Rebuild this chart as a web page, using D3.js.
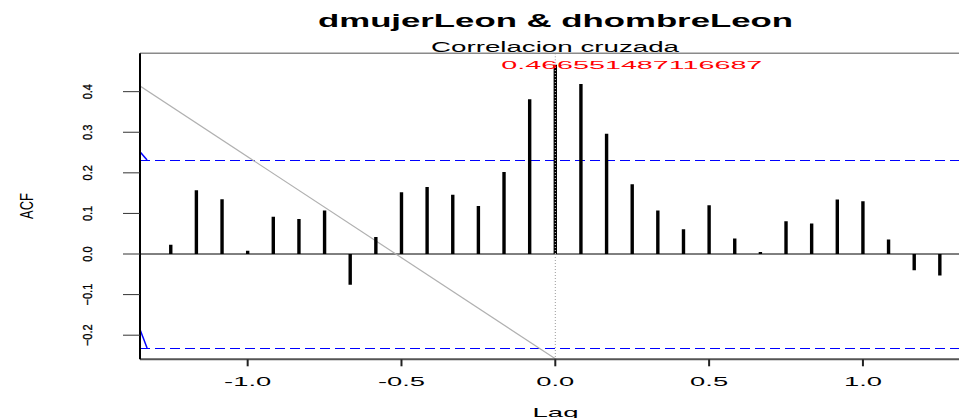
<!DOCTYPE html>
<html>
<head>
<meta charset="utf-8">
<script src="https://cdn.jsdelivr.net/npm/d3@7"></script>
<style>
  body { margin: 0; background: #fff; }
  text { font-family: "Liberation Sans", Arial, sans-serif; }
</style>
</head>
<body>
<div class="ccfDiv"></div>
<script>
"use strict"

// lags (years) and cross correlation values
var lags = [-1.25, -1.1667, -1.0833, -1.0, -0.9167, -0.8333, -0.75, -0.6667, -0.5833, -0.5, -0.4167, -0.3333, -0.25, -0.1667, -0.0833,
            0,
            0.0833, 0.1667, 0.25, 0.3333, 0.4167, 0.5, 0.5833, 0.6667, 0.75, 0.8333, 0.9167, 1.0, 1.0833, 1.1667, 1.25];
var acfValues = [0.023, 0.157, 0.135, 0.008, 0.092, 0.086, 0.107, -0.076, 0.042, 0.152, 0.165, 0.146, 0.118, 0.202, 0.381,
                 0.466551487116687,
                 0.419, 0.296, 0.172, 0.107, 0.061, 0.120, 0.038, 0.005, 0.081, 0.075, 0.134, 0.130, 0.036, -0.040, -0.053];

var ciLimit = 0.2315;
var xTicks = [-1.0, -0.5, 0.0, 0.5, 1.0];
var xTickLabels = ["-1.0", "-0.5", "0.0", "0.5", "1.0"];
var yTicks = [-0.2, -0.1, 0.0, 0.1, 0.2, 0.3, 0.4];
var yTickLabels = ["\u22120.2", "\u22120.1", "0.0", "0.1", "0.2", "0.3", "0.4"];

// grey reference line and the small blue marks at the left edge
var greyLine = [[-1.352, 0.415], [0.012, -0.264]];
var blueMarks = [[[-1.35, 0.252], [-1.327, 0.2315]], [[-1.35, -0.186], [-1.327, -0.2315]]];

var mainTitle = "dmujerLeon & dhombreLeon";
var subTitle = "Correlacion cruzada";
var maxLabel = "0.466551487116687";

var width = 959;
var height = 418;
var plot = {left: 140, right: 970.6, top: 53.3, bottom: 359.3};

var svg = d3.select(".ccfDiv").append("svg")
            .attr("width", width)
            .attr("height", height);

// R style 4% extension of the ranges
var x = d3.scaleLinear().domain([-1.35, 1.35]).range([plot.left, plot.right]);
var y = d3.scaleLinear().domain([-0.2594, 0.4945]).range([plot.bottom, plot.top]);

svg.append("defs").append("clipPath")
    .attr("id", "plotClip")
    .append("rect")
    .attr("x", plot.left).attr("y", plot.top)
    .attr("width", plot.right - plot.left).attr("height", plot.bottom - plot.top);

var g = svg.append("g").attr("clip-path", "url(#plotClip)");

// zero line
g.append("line")
    .attr("x1", plot.left).attr("x2", plot.right)
    .attr("y1", y(0)).attr("y2", y(0))
    .attr("stroke", "#000").attr("stroke-width", 1);

// confidence limits
[ciLimit, -ciLimit].forEach(function(c)
{
    g.append("line")
        .attr("x1", plot.left).attr("x2", plot.right)
        .attr("y1", Math.round(y(c)) + 0.5).attr("y2", Math.round(y(c)) + 0.5)
        .attr("stroke", "#0000ff").attr("stroke-width", 1.2)
        .attr("stroke-dasharray", "10,5");
});

blueMarks.forEach(function(m)
{
    g.append("line")
        .attr("x1", x(m[0][0])).attr("y1", y(m[0][1]))
        .attr("x2", x(m[1][0])).attr("y2", y(m[1][1]))
        .attr("stroke", "#0000ff").attr("stroke-width", 1.5);
});

// grey diagonal
g.append("path")
    .attr("d", d3.line().x(function(d) { return x(d[0]) }).y(function(d) { return y(d[1]) })(greyLine))
    .attr("fill", "none")
    .attr("stroke", "#b0b0b0").attr("stroke-width", 1.2);

// bars
g.selectAll(".bar")
    .data(lags)
    .enter()
    .append("line")
    .attr("class", "bar")
    .attr("x1", function(d) { return x(d) })
    .attr("x2", function(d) { return x(d) })
    .attr("y1", y(0))
    .attr("y2", function(d, i) { return y(acfValues[i]) })
    .attr("stroke", "#000")
    .attr("stroke-width", 3.4);

// dotted marker at lag 0
var zeroIdx = lags.indexOf(0);
g.append("line")
    .attr("x1", x(0)).attr("x2", x(0))
    .attr("y1", y(0)).attr("y2", y(acfValues[zeroIdx]))
    .attr("stroke", "#ddd").attr("stroke-width", 1)
    .attr("stroke-dasharray", "1,2");
g.append("line")
    .attr("x1", x(0)).attr("x2", x(0))
    .attr("y1", plot.top).attr("y2", y(acfValues[zeroIdx]))
    .attr("stroke", "#999").attr("stroke-width", 1)
    .attr("stroke-dasharray", "1,2");
g.append("line")
    .attr("x1", x(0)).attr("x2", x(0))
    .attr("y1", y(0)).attr("y2", plot.bottom)
    .attr("stroke", "#999").attr("stroke-width", 1)
    .attr("stroke-dasharray", "1,2");

// box
svg.append("line")
    .attr("x1", plot.left).attr("x2", width)
    .attr("y1", plot.top).attr("y2", plot.top)
    .attr("stroke", "#8a8a8a").attr("stroke-width", 1.5);
svg.append("line")
    .attr("x1", plot.left).attr("x2", width)
    .attr("y1", plot.bottom).attr("y2", plot.bottom)
    .attr("stroke", "#555").attr("stroke-width", 2);
svg.append("line")
    .attr("x1", plot.left).attr("x2", plot.left)
    .attr("y1", plot.top).attr("y2", plot.bottom)
    .attr("stroke", "#000").attr("stroke-width", 2);

// x axis
svg.selectAll(".xTick")
    .data(xTicks)
    .enter()
    .append("line")
    .attr("class", "xTick")
    .attr("x1", function(d) { return x(d) }).attr("x2", function(d) { return x(d) })
    .attr("y1", plot.bottom).attr("y2", plot.bottom + 7)
    .attr("stroke", "#222").attr("stroke-width", 2);

svg.selectAll(".xLabel")
    .data(xTicks)
    .enter()
    .append("text")
    .attr("class", "xLabel")
    .attr("transform", function(d) { return "translate(" + x(d) + "," + 386 + ") scale(2.28,1)" })
    .attr("text-anchor", "middle")
    .attr("font-size", 12)
    .text(function(d, i) { return xTickLabels[i] });

// y axis
svg.selectAll(".yTick")
    .data(yTicks)
    .enter()
    .append("line")
    .attr("class", "yTick")
    .attr("x1", plot.left - 17).attr("x2", plot.left)
    .attr("y1", function(d) { return y(d) }).attr("y2", function(d) { return y(d) })
    .attr("stroke", "#333").attr("stroke-width", 1);

svg.selectAll(".yLabel")
    .data(yTicks)
    .enter()
    .append("text")
    .attr("class", "yLabel")
    .attr("transform", function(d) { return "translate(92," + y(d) + ") rotate(-90) scale(0.85,1)" })
    .attr("text-anchor", "middle")
    .attr("font-size", 13)
    .attr("stroke", "#000")
    .attr("stroke-width", 0.3)
    .text(function(d, i) { return yTickLabels[i] });

// titles
svg.append("text")
    .attr("x", 555.5).attr("y", 26.5)
    .attr("text-anchor", "middle")
    .attr("font-size", 18.5)
    .attr("font-weight", "bold")
    .attr("textLength", 475)
    .attr("lengthAdjust", "spacingAndGlyphs")
    .text(mainTitle);

svg.append("text")
    .attr("x", 555).attr("y", 51.5)
    .attr("text-anchor", "middle")
    .attr("font-size", 14)
    .attr("textLength", 248)
    .attr("lengthAdjust", "spacingAndGlyphs")
    .text(subTitle);

svg.append("text")
    .attr("x", x(0) + 76.5).attr("y", 69)
    .attr("text-anchor", "middle")
    .attr("font-size", 11.6)
    .attr("fill", "#ff0000")
    .attr("textLength", 261)
    .attr("lengthAdjust", "spacingAndGlyphs")
    .text(maxLabel);

svg.append("text")
    .attr("transform", "translate(555.5,416.5) scale(2.12,1)")
    .attr("text-anchor", "middle")
    .attr("font-size", 13)
    .text("Lag");

svg.append("text")
    .attr("transform", "translate(33,206) rotate(-90) scale(0.72,1)")
    .attr("text-anchor", "middle")
    .attr("font-size", 18)
    .text("ACF");
</script>
</body>
</html>
